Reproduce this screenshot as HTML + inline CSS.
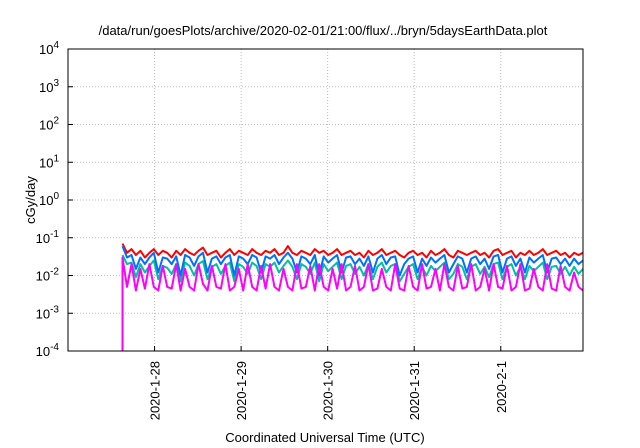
<!DOCTYPE html>
<html><head><meta charset="utf-8"><style>
body{margin:0;background:#fff;}
svg{display:block;font-family:"Liberation Sans",sans-serif;}
</style></head><body>
<svg id="chart" width="640" height="448"></svg>
<script>
const yTicks=[-4,-3,-2,-1,0,1,2,3,4];
const xTickDays=[1,2,3,4,5];
const xTickLabels=["2020-1-28","2020-1-29","2020-1-30","2020-1-31","2020-2-1"];
const tStart=0.63, tEnd=5.95;
const magentaStart=0.0001;
const red=[0.07,0.04,0.05,0.035,0.045,0.03,0.04,0.05,0.035,0.045,0.04,0.03,0.045,0.035,0.05,0.04,0.035,0.045,0.055,0.035,0.04,0.045,0.03,0.04,0.05,0.035,0.045,0.04,0.035,0.05,0.04,0.035,0.045,0.04,0.05,0.035,0.04,0.06,0.04,0.035,0.045,0.04,0.035,0.05,0.04,0.045,0.035,0.04,0.05,0.035,0.04,0.045,0.035,0.04,0.03,0.045,0.035,0.04,0.05,0.035,0.04,0.045,0.035,0.03,0.04,0.045,0.035,0.04,0.03,0.045,0.035,0.04,0.05,0.035,0.03,0.045,0.04,0.035,0.04,0.045,0.035,0.04,0.03,0.045,0.05,0.035,0.04,0.045,0.03,0.04,0.035,0.045,0.035,0.04,0.05,0.035,0.04,0.045,0.035,0.04,0.03,0.04,0.035,0.04];
const blue=[0.06,0.03,0.035,0.015,0.03,0.02,0.03,0.04,0.012,0.03,0.028,0.02,0.032,0.01,0.035,0.03,0.018,0.032,0.04,0.012,0.028,0.032,0.02,0.03,0.035,0.01,0.032,0.028,0.02,0.035,0.03,0.012,0.032,0.028,0.035,0.02,0.03,0.04,0.028,0.012,0.032,0.028,0.02,0.035,0.01,0.032,0.022,0.028,0.035,0.012,0.03,0.032,0.02,0.028,0.018,0.032,0.012,0.028,0.035,0.02,0.03,0.032,0.01,0.02,0.028,0.032,0.012,0.028,0.018,0.03,0.022,0.028,0.035,0.012,0.02,0.032,0.028,0.012,0.028,0.032,0.02,0.028,0.015,0.032,0.035,0.012,0.028,0.032,0.018,0.028,0.012,0.03,0.022,0.028,0.035,0.012,0.028,0.03,0.02,0.028,0.018,0.028,0.02,0.025];
const teal=[0.035,0.02,0.022,0.009,0.02,0.012,0.018,0.025,0.008,0.018,0.016,0.011,0.02,0.007,0.022,0.018,0.01,0.02,0.024,0.008,0.017,0.02,0.011,0.018,0.022,0.007,0.02,0.017,0.011,0.022,0.018,0.008,0.02,0.017,0.022,0.012,0.018,0.025,0.017,0.008,0.02,0.017,0.011,0.022,0.007,0.02,0.013,0.017,0.022,0.008,0.018,0.02,0.011,0.017,0.01,0.02,0.008,0.017,0.022,0.012,0.018,0.02,0.007,0.011,0.017,0.02,0.008,0.017,0.01,0.018,0.013,0.017,0.022,0.008,0.011,0.02,0.017,0.008,0.017,0.02,0.011,0.017,0.009,0.02,0.022,0.008,0.017,0.02,0.01,0.017,0.008,0.018,0.013,0.017,0.022,0.008,0.017,0.018,0.011,0.017,0.01,0.017,0.011,0.015];
const magenta=[0.03,0.005,0.02,0.004,0.015,0.0045,0.02,0.005,0.004,0.018,0.005,0.0045,0.02,0.004,0.015,0.005,0.004,0.02,0.006,0.004,0.018,0.005,0.0045,0.02,0.004,0.005,0.015,0.004,0.02,0.005,0.004,0.018,0.0045,0.02,0.005,0.004,0.015,0.005,0.004,0.02,0.0045,0.005,0.018,0.004,0.02,0.005,0.004,0.015,0.0045,0.02,0.004,0.005,0.018,0.004,0.005,0.02,0.004,0.0045,0.015,0.005,0.004,0.02,0.0045,0.004,0.018,0.005,0.004,0.02,0.0045,0.005,0.015,0.004,0.02,0.005,0.004,0.018,0.0045,0.005,0.02,0.004,0.005,0.015,0.004,0.02,0.005,0.0045,0.018,0.004,0.005,0.02,0.004,0.0045,0.015,0.005,0.004,0.02,0.0045,0.004,0.018,0.005,0.004,0.012,0.005,0.004];
const L=68,R=583,T=49,B=351;
const xs=d=>L+(d/5.95)*(R-L);
const ys=v=>B-(Math.log10(v)+4)/8*(B-T);
const svg=document.getElementById('chart');
const NS='http://www.w3.org/2000/svg';
function mk(tag,attrs,txt){const e=document.createElementNS(NS,tag);for(const k in attrs)e.setAttribute(k,attrs[k]);if(txt!==undefined)e.textContent=txt;svg.appendChild(e);return e;}
yTicks.forEach(p=>{const y=ys(Math.pow(10,p));
 if(p>-4&&p<4){const g=mk('line',{x1:L,x2:R,y1:y,y2:y,stroke:'#bbb','stroke-dasharray':'1,2'});
 
 }
 const t=mk('line',{x1:L,x2:L+5,y1:y,y2:y,stroke:'#000'});
 
 
 const tx=mk('text',{x:L-9,y:y+5,'text-anchor':'end','font-size':13});
 
 
 tx.innerHTML='10<tspan dy="-6" font-size="10">'+p+'</tspan>';
});
xTickDays.forEach((d,i)=>{const x=xs(d);
 const g=mk('line',{x1:x,x2:x,y1:T,y2:B,stroke:'#bbb','stroke-dasharray':'1,2'});
 
 
 const t=mk('line',{x1:x,x2:x,y1:B,y2:B-5,stroke:'#000'});
 
 
 const tx=mk('text',{x:0,y:0,'text-anchor':'end','font-size':13,transform:`translate(${x+5},${B+10}) rotate(-90)`},xTickLabels[i]);
 
 
});
function series(arr,color,name,start){
 const n=arr.length;
 let pts=arr.map((v,i)=>xs(tStart+(tEnd-tStart)*i/(n-1)).toFixed(1)+','+ys(v).toFixed(1));
 if(start!==undefined) pts.unshift(xs(tStart).toFixed(1)+','+ys(start).toFixed(1));
 const p=mk('polyline',{points:pts.join(' '),fill:'none',stroke:color,'stroke-width':2,'stroke-linejoin':'round'});
 
 
}
series(red,'#ff0000','series-red');
series(teal,'#00c0a0','series-teal');
series(blue,'#0070ff','series-blue');
series(magenta,'#ff00ff','series-magenta',magentaStart);
const fr=mk('rect',{x:L,y:T,width:R-L,height:B-T,fill:'none',stroke:'#000','stroke-width':1});


const ti=mk('text',{x:323,y:35,'text-anchor':'middle','font-size':13},'/data/run/goesPlots/archive/2020-02-01/21:00/flux/../bryn/5daysEarthData.plot');


const yl=mk('text',{x:0,y:0,'text-anchor':'middle','font-size':13,transform:'translate(35,200) rotate(-90)'},'cGy/day');


const xl=mk('text',{x:325,y:442,'text-anchor':'middle','font-size':13},'Coordinated Universal Time (UTC)');


</script>
</body></html>
